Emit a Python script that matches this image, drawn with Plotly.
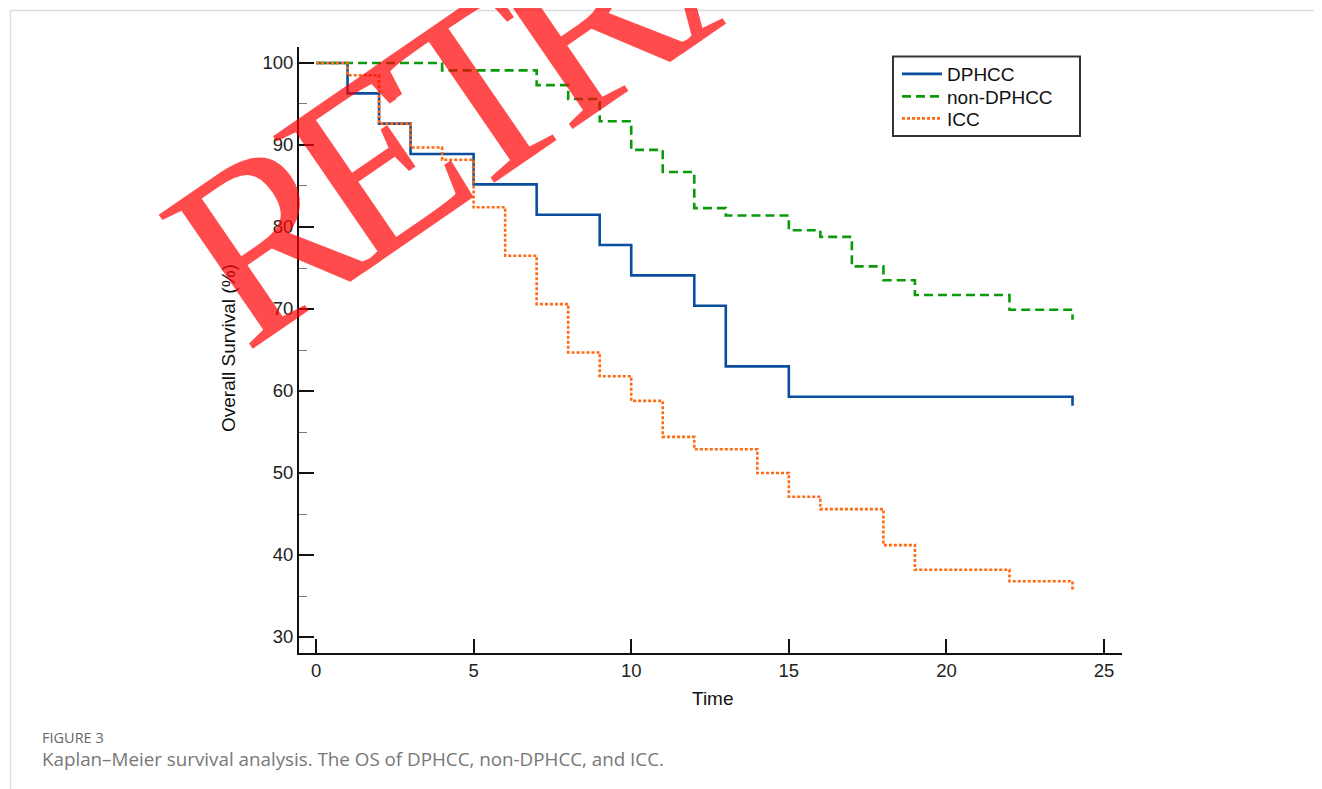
import plotly.graph_objects as go

# ---- data ----
dphcc_time = [0, 1, 2, 3, 5, 7, 9, 10, 12, 13, 15, 24]
dphcc_surv = [100, 96.3, 92.6, 88.9, 85.2, 81.5, 77.8, 74.1, 70.4, 63.0, 59.3, 58.2]

non_time = [0, 4, 7, 8, 9, 10, 11, 12, 13, 15, 16, 17, 18, 19, 22, 24]
non_surv = [100, 99.1, 97.3, 95.6, 92.9, 89.4, 86.7, 82.3, 81.4, 79.6, 78.8, 75.2, 73.5, 71.7, 69.9, 68.7]

icc_time = [0, 1, 2, 3, 4, 5, 6, 7, 8, 9, 10, 11, 12, 14, 15, 16, 18, 19, 22, 24]
icc_surv = [100, 98.5, 92.6, 89.7, 88.2, 82.4, 76.5, 70.6, 64.7, 61.8, 58.8, 54.4, 52.9, 50.0,
            47.1, 45.6, 41.2, 38.2, 36.8, 35.8]

x_ticks = [0, 5, 10, 15, 20, 25]
y_ticks = [30, 40, 50, 60, 70, 80, 90, 100]
y_minor = [35, 45, 55, 65, 75, 85, 95]

W, H = 1322, 789
OFF = 8  # page body margin of the html page
# plot area in reference-page pixels
L, R, T, B = 299, 1122, 47, 653


def px(xp):
    return (xp - L) / (R - L)


def py(yp):
    return (B - yp) / (B - T)


SANS = "Liberation Sans, Arial, sans-serif"

fig = go.Figure()
fig.add_trace(go.Scatter(x=dphcc_time, y=dphcc_surv, mode="lines", name="DPHCC", legend="legend",
                         line=dict(color="#0b4d9e", width=2.6, shape="hv")))
fig.add_trace(go.Scatter(x=non_time, y=non_surv, mode="lines", name="non-DPHCC", legend="legend2",
                         line=dict(color="#0a9a0a", width=2.6, shape="hv", dash="9px,5px")))
fig.add_trace(go.Scatter(x=icc_time, y=icc_surv, mode="lines", name="ICC", legend="legend3",
                         line=dict(color="#ff6a13", width=2.6, shape="hv", dash="3px,2px")))

tickfont = dict(family=SANS, size=18.5, color="#222")
legfont = dict(family=SANS, size=19, color="#111")


def leg(yc):
    return dict(x=px(897), y=py(yc), xanchor="left", yanchor="middle", itemwidth=40,
                bgcolor="rgba(0,0,0,0)", borderwidth=0, font=legfont)


fig.update_layout(
    width=W, height=H,
    margin=dict(l=L - OFF, r=W - R + OFF, t=T - OFF, b=H - B + OFF, pad=0),
    paper_bgcolor="white", plot_bgcolor="white",
    showlegend=True,
    legend=leg(74), legend2=leg(96.5), legend3=leg(118.5),
    xaxis=dict(range=[-0.54, 25.57], tickvals=x_ticks, ticks="inside", ticklen=14,
               tickwidth=1.5, tickcolor="#111", showline=True, linewidth=2, linecolor="#111",
               showgrid=False, zeroline=False, tickfont=tickfont),
    yaxis=dict(range=[28.05, 101.95], tickvals=y_ticks, ticks="inside", ticklen=15,
               tickwidth=2, tickcolor="#111", showline=True, linewidth=2, linecolor="#111",
               showgrid=False, zeroline=False, tickfont=tickfont,
               minor=dict(tickvals=y_minor, ticks="inside", ticklen=8,
                          tickwidth=1.2, tickcolor="#777")),
)

# legend frame
fig.add_shape(type="rect", xref="paper", yref="paper", x0=px(893), x1=px(1080), y0=py(56.5), y1=py(136),
              line=dict(color="#333", width=2), fillcolor="white", layer="below")

# axis titles
fig.add_annotation(text="Time", x=px(713), y=py(698), xref="paper", yref="paper",
                   showarrow=False, xanchor="center", yanchor="middle",
                   font=dict(family=SANS, size=19, color="#111"))
fig.add_annotation(text="Overall Survival (%)", x=px(228), y=py(348), xref="paper", yref="paper",
                   showarrow=False, xanchor="center", yanchor="middle", textangle=-90,
                   font=dict(family=SANS, size=19, color="#111"))

# caption
fig.add_annotation(text="FIGURE 3", x=px(40), y=py(737), xref="paper", yref="paper",
                   showarrow=False, xanchor="left", yanchor="middle",
                   font=dict(family="Open Sans, Lato, sans-serif", size=14.5, color="#666"))
fig.add_annotation(text="Kaplan\u2013Meier survival analysis. The OS of DPHCC, non-DPHCC, and ICC.",
                   x=px(40), y=py(759), xref="paper", yref="paper",
                   showarrow=False, xanchor="left", yanchor="middle",
                   font=dict(family="Open Sans, Lato, sans-serif", size=18.8, color="#777"))

# page frame
fig.add_shape(type="line", xref="paper", yref="paper", x0=px(10), x1=px(1340), y0=py(10.5), y1=py(10.5),
              line=dict(color="#dcdcdc", width=1.5))
fig.add_shape(type="line", xref="paper", yref="paper", x0=px(10.5), x1=px(10.5), y0=py(10), y1=py(820),
              line=dict(color="#dcdcdc", width=1.5))

# watermark (group opacity so touching letters do not darken)
fig.add_annotation(text='<span style="letter-spacing:-28px">RETRACTED</span>',
                   x=px(708), y=py(-66), xref="paper", yref="paper",
                   showarrow=False, xanchor="center", yanchor="middle", textangle=-34.5,
                   opacity=0.7,
                   font=dict(family="Liberation Serif, Times New Roman, serif", size=250,
                             color="#ff0000"))

fig.write_html("out.html")
